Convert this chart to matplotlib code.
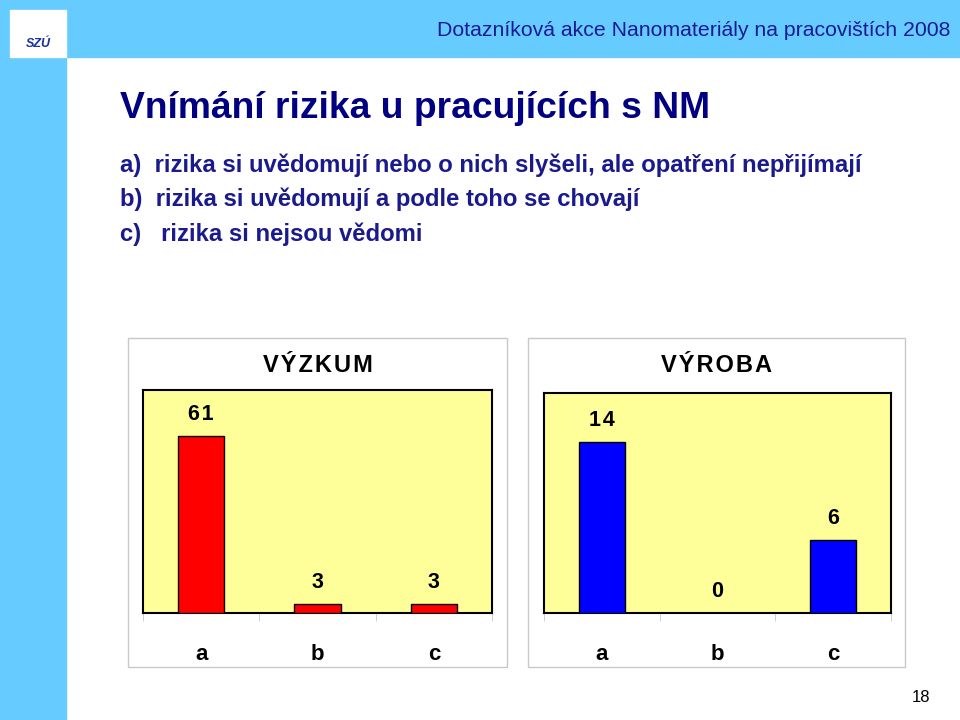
import matplotlib
matplotlib.use("Agg")
import matplotlib.pyplot as plt
from matplotlib.patches import Rectangle

categories = ["a", "b", "c"]
vyzkum = [61, 3, 3]
vyroba = [14, 0, 6]

plt.rcParams["font.family"] = "Liberation Sans"
W, H = 960, 720
fig = plt.figure(figsize=(9.6, 7.2), dpi=100)

def fx(x): return x / W
def fy(y): return 1 - y / H

blue = "#66CCFF"
fig.patches.append(Rectangle((0, fy(57)), 1, 57 / H, transform=fig.transFigure, color=blue, zorder=-3))
fig.patches.append(Rectangle((0, 0), fx(66), 1, transform=fig.transFigure, color=blue, zorder=-3))
fig.patches.append(Rectangle((fx(10), fy(57)), fx(56), 47 / H, transform=fig.transFigure, color="white", zorder=-2))
fig.text(fx(38), fy(44), "SZÚ", color="#1a3399", fontsize=9, fontweight="bold", fontstyle="italic", ha="center", va="center")
fig.text(fx(950), fy(30), "Dotazníková akce Nanomateriály na pracovištích 2008", color="#1a1a99",
         fontsize=15.3, ha="right", va="center")
fig.text(fx(120), fy(108), "Vnímání rizika u pracujících s NM", color="#000080", fontsize=26.8,
         fontweight="bold", ha="left", va="center")
lines = ["a)  rizika si uvědomují nebo o nich slyšeli, ale opatření nepřijímají",
         "b)  rizika si uvědomují a podle toho se chovají",
         "c)   rizika si nejsou vědomi"]
for y, t in zip([165, 199, 234], lines):
    fig.text(fx(120), fy(y), t, color="#1a1a8c", fontsize=17.2, fontweight="bold", ha="left", va="center")
fig.text(fx(921), fy(698), "18", fontsize=12, ha="center", va="center")

def panel(box, area, title, vals, color, ymax):
    x0, y0, x1, y1 = box
    fig.patches.append(Rectangle((fx(x0), fy(y1)), fx(x1 - x0), (y1 - y0) / H, transform=fig.transFigure,
                                 facecolor="white", edgecolor="#c8c8c8", lw=1, zorder=-1))
    fig.text(fx((x0 + x1) / 2), fy(365), "\u200a".join(title), fontsize=17, fontweight="bold", ha="center", va="center")
    ax0, ay0, ax1, ay1 = area
    ax = fig.add_axes([fx(ax0), fy(ay1), fx(ax1 - ax0), (ay1 - ay0) / H])
    ax.set_facecolor("#FFFF99")
    xs = range(len(vals))
    ax.bar(xs, vals, width=0.4, color=color, edgecolor="black", lw=1, zorder=3)
    for x, v in zip(xs, vals):
        ax.annotate("\u200a".join(str(v)), (x, v), xytext=(0, 8), textcoords="offset points", ha="center", va="bottom",
                    fontsize=15.5, fontweight="bold")
    ax.set_xlim(-0.5, len(vals) - 0.5)
    ax.set_ylim(0, ymax)
    ax.set_yticks([])
    ax.set_xticks(list(xs))
    ax.set_xticklabels(categories, fontsize=16, fontweight="bold")
    ax.tick_params(axis="x", which="major", length=0, pad=22)
    ax.set_xticks([-0.5, 0.5, 1.5, 2.5], minor=True)
    ax.tick_params(axis="x", which="minor", length=6, color="#c8c8c8")
    for s in ax.spines.values():
        s.set_linewidth(1.5)

panel((128, 338, 507, 667), (143, 390, 492, 613), "VÝZKUM", vyzkum, "#FF0000", 76.9)
panel((528, 338, 905, 667), (544, 393, 891, 613), "VÝROBA", vyroba, "#0000FF", 18)

fig.savefig("out.png", dpi=100)
